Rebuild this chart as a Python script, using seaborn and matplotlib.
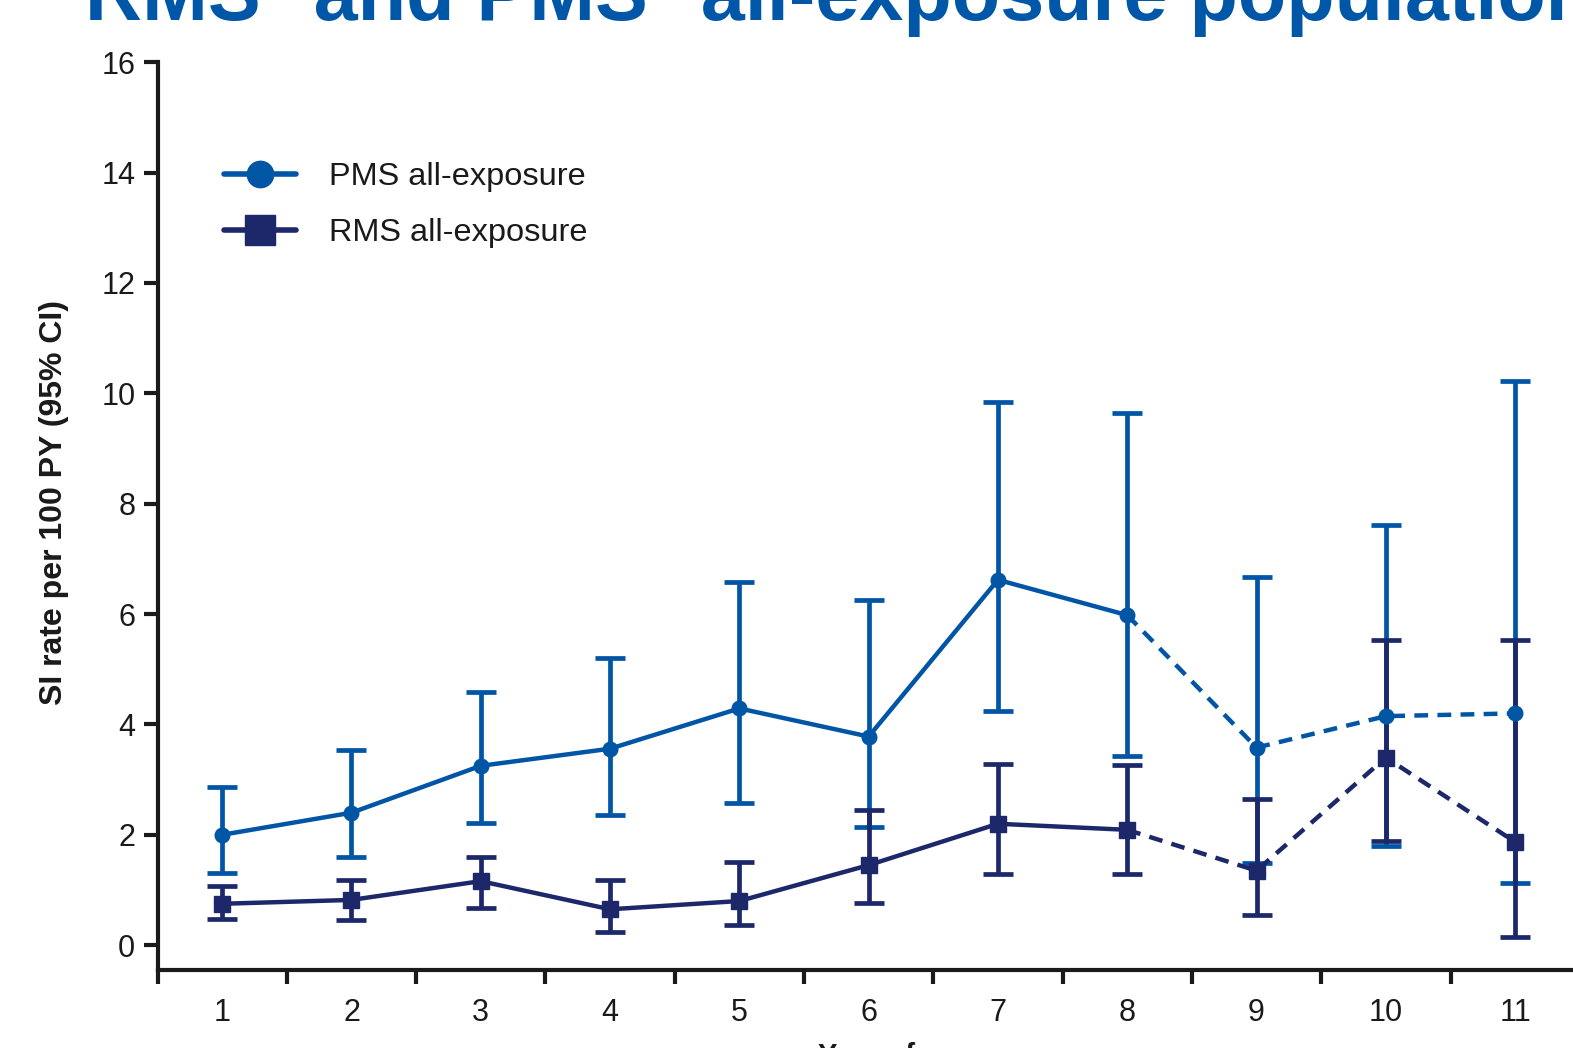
import matplotlib
matplotlib.use("Agg")
import matplotlib.pyplot as plt
from matplotlib.lines import Line2D
import numpy as np
import pandas as pd
import seaborn as sns

# Study year
years = [1, 2, 3, 4, 5, 6, 7, 8, 9, 10, 11]

# PMS all-exposure: SI rate per 100 PY with 95% CI
pms_rate = [2.00, 2.40, 3.25, 3.56, 4.29, 3.78, 6.62, 5.98, 3.58, 4.15, 4.20]
pms_lower = [1.31, 1.60, 2.22, 2.35, 2.58, 2.15, 4.24, 3.42, 1.49, 1.80, 1.13]
pms_upper = [2.87, 3.53, 4.58, 5.20, 6.58, 6.25, 9.85, 9.64, 6.67, 7.62, 10.22]

# RMS all-exposure: SI rate per 100 PY with 95% CI
rms_rate = [0.75, 0.82, 1.16, 0.65, 0.80, 1.45, 2.20, 2.09, 1.35, 3.40, 1.87]
rms_lower = [0.47, 0.45, 0.67, 0.24, 0.36, 0.76, 1.29, 1.29, 0.55, 1.89, 0.15]
rms_upper = [1.07, 1.18, 1.60, 1.18, 1.51, 2.45, 3.29, 3.27, 2.65, 5.53, 5.53]

# Years drawn with a solid line; later years are joined with a dashed line
solid_until = 8

series_names = ["PMS all-exposure", "RMS all-exposure"]
y_ticks = [0, 2, 4, 6, 8, 10, 12, 14, 16]

PMS_COLOR = "#0055A5"
RMS_COLOR = "#1D286B"

sns.set_style("ticks")
plt.rcParams["font.family"] = ["Liberation Sans", "DejaVu Sans"]

W, H = 1573, 1048
fig = plt.figure(figsize=(W / 100, H / 100), dpi=100)

left_px, right_px = 157.5, 1579.8
top_px, bottom_px = 62.2, 970.0
ax = fig.add_axes([left_px / W, 1 - bottom_px / H,
                   (right_px - left_px) / W, (bottom_px - top_px) / H])

df = pd.DataFrame({
    "year": years * 2,
    "rate": pms_rate + rms_rate,
    "lower": pms_lower + rms_lower,
    "upper": pms_upper + rms_upper,
    "series": [series_names[0]] * len(years) + [series_names[1]] * len(years),
})

styles = {
    series_names[0]: dict(color=PMS_COLOR, marker="o", ms=10.5),
    series_names[1]: dict(color=RMS_COLOR, marker="s", ms=11),
}

lw = 3.2
for name in series_names:
    sub = df[df["series"] == name]
    st = styles[name]
    # confidence intervals
    ax.errorbar(sub["year"], sub["rate"],
                yerr=[sub["rate"] - sub["lower"], sub["upper"] - sub["rate"]],
                fmt="none", ecolor=st["color"], elinewidth=3.4,
                capsize=11, capthick=3.4, zorder=2)
    # solid part of the trend
    sns.lineplot(data=sub[sub["year"] <= solid_until], x="year", y="rate",
                 color=st["color"], lw=lw, ax=ax, zorder=3, legend=False)
    # dashed continuation
    sns.lineplot(data=sub[sub["year"] >= solid_until], x="year", y="rate",
                 color=st["color"], lw=lw, ax=ax, zorder=3, legend=False,
                 dashes=False)
    ax.lines[-1].set_dashes((3.1, 2.1))
    # point markers
    ax.plot(sub["year"], sub["rate"], ls="none", marker=st["marker"],
            ms=st["ms"], color=st["color"], mec=st["color"], zorder=4)

ax.set_xlim(0.5, 11.5)
ax.set_ylim(-0.45, 16)

# tick marks between the years, labels at the years
ax.set_xticks(np.arange(0.5, 12.0, 1.0))
ax.set_xticklabels([])
ax.set_xticks(years, minor=True)
ax.set_xticklabels([str(y) for y in years], minor=True)
ax.tick_params(axis="x", which="major", length=10, width=3, color="#1a1a1a",
               direction="out")
ax.tick_params(axis="x", which="minor", length=0, pad=20, labelsize=22,
               labelcolor="#1a1a1a")

ax.set_yticks(y_ticks)
ax.set_yticklabels([str(t) for t in y_ticks])
ax.tick_params(axis="y", length=10, width=3, color="#1a1a1a", pad=6,
               labelsize=22, labelcolor="#1a1a1a")

for side in ["top", "right"]:
    ax.spines[side].set_visible(False)
for side in ["left", "bottom"]:
    ax.spines[side].set_linewidth(3)
    ax.spines[side].set_color("#1a1a1a")
ax.spines["left"].set_bounds(-0.45, 16)

ax.set_xlabel("")
ax.set_ylabel("SI rate per 100 PY (95% CI)", fontsize=23, fontweight="bold",
              color="#1a1a1a")
ax.yaxis.set_label_coords(-0.0625, 0.515)

handles = [
    Line2D([], [], color=PMS_COLOR, lw=4, marker="o", ms=19),
    Line2D([], [], color=RMS_COLOR, lw=4, marker="s", ms=22),
]
ax.legend(handles, series_names, loc="upper left",
          bbox_to_anchor=(195 / W, 1 - 133 / H), bbox_transform=fig.transFigure,
          frameon=False, fontsize=23.4, handlelength=2.22, handletextpad=1.0,
          labelspacing=0.8, labelcolor="#1a1a1a")

fig.text(85 / W, 1 - 20 / H, "RMS* and PMS* all-exposure population",
         fontsize=57, fontweight="bold", color="#0057A8",
         ha="left", va="baseline")
fig.text(818 / W, 1 - 1042 / H, "Year of exposure", fontsize=21,
         fontweight="bold", color="#1a1a1a", ha="left", va="top")

fig.savefig("out.png", dpi=100)
